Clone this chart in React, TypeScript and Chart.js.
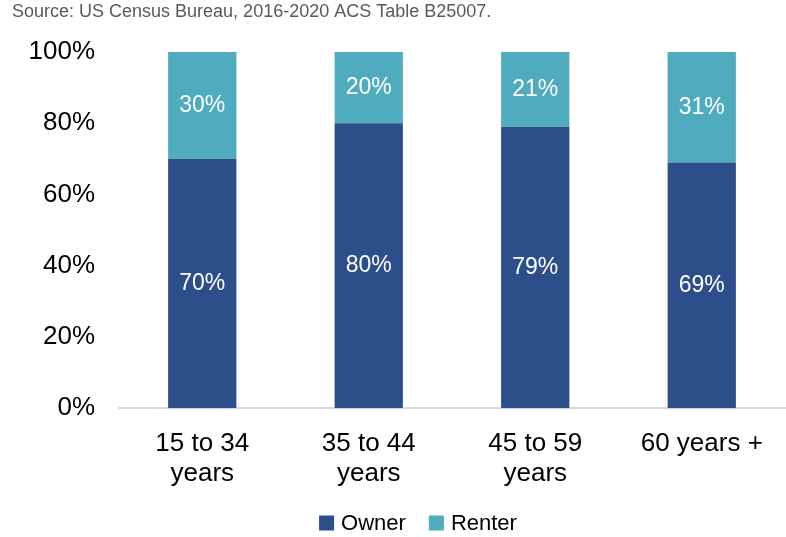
import React, { useEffect, useRef } from "react";
import { Chart, registerables } from "chart.js";

Chart.register(...registerables);

const categories: (string | string[])[] = [
  ["15 to 34", "years"],
  ["35 to 44", "years"],
  ["45 to 59", "years"],
  "60 years +",
];
const ownerValues = [70, 80, 79, 69];
const renterValues = [30, 20, 21, 31];
const yTicks = [0, 20, 40, 60, 80, 100];
const sourceText = "Source: US Census Bureau, 2016-2020 ACS Table B25007.";

const FONT = "'Liberation Sans', Arial, sans-serif";

const labelPlugin = {
  id: "barLabels",
  afterDatasetsDraw(chart: any) {
    const ctx = chart.ctx;
    ctx.save();
    ctx.fillStyle = "#ffffff";
    ctx.font = `23px ${FONT}`;
    ctx.textAlign = "center";
    ctx.textBaseline = "middle";
    chart.data.datasets.forEach((ds: any, i: number) => {
      const meta = chart.getDatasetMeta(i);
      meta.data.forEach((el: any, j: number) => {
        const { x, y, base } = el.getProps(["x", "y", "base"], true);
        ctx.fillText(`${ds.data[j]}%`, x, (y + base) / 2);
      });
    });
    ctx.restore();
  },
};

const sourcePlugin = {
  id: "sourceText",
  afterDraw(chart: any) {
    const ctx = chart.ctx;
    ctx.save();
    ctx.fillStyle = "#595959";
    ctx.font = `18px ${FONT}`;
    ctx.textAlign = "left";
    ctx.textBaseline = "middle";
    ctx.fillText(sourceText, 12, 12);
    ctx.restore();
  },
};

const legendPlugin = {
  id: "customLegend",
  afterDraw(chart: any) {
    const ctx = chart.ctx;
    ctx.save();
    ctx.font = `22px ${FONT}`;
    ctx.textBaseline = "middle";
    ctx.textAlign = "left";
    const box = 15;
    const gap = 7;
    const itemGap = 23;
    const items = chart.data.datasets.map((ds: any) => ({
      label: ds.label,
      color: ds.backgroundColor,
      w: box + gap + ctx.measureText(ds.label).width,
    }));
    const total = items.reduce((a: number, it: any) => a + it.w, 0) + itemGap * (items.length - 1);
    const cy = 523;
    let x = 418 - total / 2;
    items.forEach((it: any) => {
      ctx.fillStyle = it.color;
      ctx.fillRect(x, cy - box / 2, box, box);
      ctx.fillStyle = "#000000";
      ctx.fillText(it.label, x + box + gap, cy + 1);
      x += it.w + itemGap;
    });
    ctx.restore();
  },
};

export default function App() {
  const ref = useRef<HTMLCanvasElement>(null);
  useEffect(() => {
    document.body.style.margin = "0";
    const chart = new Chart(ref.current!, {
      type: "bar",
      data: {
        labels: categories,
        datasets: [
          {
            label: "Owner",
            data: ownerValues,
            backgroundColor: "#2C4F8B",
            barPercentage: 0.82,
            categoryPercentage: 0.5,
          },
          {
            label: "Renter",
            data: renterValues,
            backgroundColor: "#4FACBF",
            barPercentage: 0.82,
            categoryPercentage: 0.5,
          },
        ],
      },
      options: {
        animation: false,
        responsive: false,
        layout: { padding: { left: 0, right: 1, top: 52, bottom: 28 } },
        plugins: {
          title: { display: false },
          legend: { display: false },
          tooltip: { enabled: false },
        },
        scales: {
          x: {
            stacked: true,
            grid: { display: false, drawTicks: false },
            border: { display: true, color: "#D9D9D9", width: 2 },
            ticks: {
              color: "#000000",
              font: { family: FONT, size: 26, lineHeight: 1.17 },
              padding: 20,
              maxRotation: 0,
              autoSkip: false,
            },
          },
          y: {
            stacked: true,
            min: 0,
            max: 100,
            grid: { display: false, drawTicks: false },
            border: { display: false },
            afterFit: (s: any) => {
              s.width = 119;
            },
            afterBuildTicks: (s: any) => {
              s.ticks = yTicks.map((v) => ({ value: v }));
            },
            ticks: {
              color: "#000000",
              font: { family: FONT, size: 26 },
              padding: 24,
              callback: (v: any) => `${v}%`,
            },
          },
        },
      },
      plugins: [labelPlugin, sourcePlugin, legendPlugin],
    });
    return () => chart.destroy();
  }, []);
  return <canvas ref={ref} width={786} height={537} style={{ display: "block" }} />;
}
